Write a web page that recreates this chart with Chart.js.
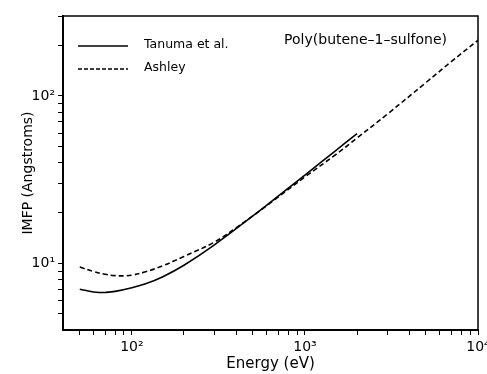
<!DOCTYPE html>
<html>
<head>
<meta charset="utf-8">
<script src="https://cdn.jsdelivr.net/npm/chart.js@4/dist/chart.umd.min.js"></script>
<style>
  html, body { margin: 0; padding: 0; background: #ffffff; }
  #wrap { width: 487px; height: 374px; }
</style>
</head>
<body>
<div id="wrap"><canvas id="c" width="487" height="374"></canvas></div>
<script>
// ---- data ----
const seriesNames = ['Tanuma et al.', 'Ashley'];
const chartNote = 'Poly(butene–1–sulfone)';
const xAxisTitle = 'Energy (eV)';
const yAxisTitle = 'IMFP (Angstroms)';

const tanumaEnergy = [50, 60, 65, 70, 80, 100, 120, 150, 200, 300, 500, 700, 1000, 1500, 2000];
const tanumaIMFP   = [7.0, 6.75, 6.7, 6.7, 6.8, 7.15, 7.55, 8.3, 9.75, 12.9, 19.2, 25.2, 33.7, 47.0, 59.5];

const ashleyEnergy = [50, 60, 70, 80, 90, 100, 120, 150, 200, 300, 400, 500, 700, 1000, 1500, 2000, 3000, 5000, 7000, 10000];
const ashleyIMFP   = [9.5, 8.95, 8.6, 8.45, 8.42, 8.5, 8.9, 9.65, 11.0, 13.4, 16.3, 19.2, 24.9, 32.8, 44.5, 56, 78, 120, 160, 215];

const xTickValues = [50, 60, 70, 80, 90, 100, 200, 300, 400, 500, 600, 700, 800, 900,
                     1000, 2000, 3000, 4000, 5000, 6000, 7000, 8000, 9000, 10000];
const xMajorValues = [100, 1000, 10000];
const xMajorLabels = ['10²', '10³', '10⁴'];

const yTickValues = [5, 6, 7, 8, 9, 10, 20, 30, 40, 50, 60, 70, 80, 90, 100, 200, 300];
const yMajorValues = [10, 100];
const yMajorLabels = ['10¹', '10²'];

const xRange = [40, 10000];
const yRange = [4, 300];

// ---- chart ----
const FONT = '"DejaVu Sans", "Liberation Sans", sans-serif';

const notesPlugin = {
  id: 'notes',
  afterDraw(chart) {
    const ctx = chart.ctx;
    const a = chart.chartArea;
    ctx.save();
    // frame: top and right edges
    ctx.strokeStyle = '#000';
    ctx.lineWidth = 1.5;
    ctx.setLineDash([]);
    ctx.beginPath();
    ctx.moveTo(a.left, a.top);
    ctx.lineTo(a.right, a.top);
    ctx.lineTo(a.right, a.bottom);
    ctx.stroke();

    // legend (upper left, inside plot)
    chart.data.datasets.forEach((ds, i) => {
      const y = a.top + 30 + i * 23;
      ctx.strokeStyle = '#000';
      ctx.lineWidth = 1.5;
      ctx.setLineDash(ds.legendDash || []);
      ctx.beginPath();
      ctx.moveTo(a.left + 15, y);
      ctx.lineTo(a.left + 65, y);
      ctx.stroke();
      ctx.setLineDash([]);
      ctx.fillStyle = '#000';
      ctx.font = '12.5px ' + FONT;
      ctx.textAlign = 'left';
      ctx.textBaseline = 'middle';
      ctx.fillText(ds.label, a.left + 81, y - 1);
    });

    // note in the upper right
    ctx.font = '14px ' + FONT;
    ctx.textAlign = 'right';
    ctx.textBaseline = 'middle';
    ctx.fillStyle = '#000';
    ctx.fillText(chartNote, a.right - 31, a.top + 24);
    ctx.restore();
  }
};

const toPoints = (xs, ys) => xs.map((x, i) => ({ x: x, y: ys[i] }));

new Chart(document.getElementById('c'), {
  type: 'line',
  data: {
    datasets: [
      {
        label: seriesNames[0],
        data: toPoints(tanumaEnergy, tanumaIMFP),
        borderColor: '#000',
        borderWidth: 1.6,
        pointRadius: 0,
        fill: false,
        tension: 0.4,
        legendDash: []
      },
      {
        label: seriesNames[1],
        data: toPoints(ashleyEnergy, ashleyIMFP),
        borderColor: '#000',
        borderWidth: 1.6,
        borderDash: [5, 3],
        pointRadius: 0,
        fill: false,
        tension: 0.4,
        legendDash: [4, 2]
      }
    ]
  },
  options: {
    responsive: false,
    animation: false,
    devicePixelRatio: 1,
    layout: { padding: { left: 0, top: 16, right: 9, bottom: 0 } },
    plugins: {
      legend: { display: false },
      tooltip: { enabled: false },
      title: { display: false }
    },
    scales: {
      x: {
        type: 'logarithmic',
        position: 'bottom',
        min: xRange[0],
        max: xRange[1],
        afterBuildTicks: (s) => { s.ticks = xTickValues.map(v => ({ value: v })); },
        afterFit: (s) => { s.height = 44; s.paddingLeft = 0; s.paddingRight = 0; },
        border: { display: true, color: '#000', width: 2 },
        grid: { display: true, drawOnChartArea: false, drawTicks: true, tickLength: 5, tickColor: '#000', tickWidth: 1 },
        ticks: {
          autoSkip: false,
          maxRotation: 0,
          padding: 4,
          color: '#000',
          font: { family: FONT, size: 14 },
          callback: (v) => { const i = xMajorValues.indexOf(v); return i >= 0 ? xMajorLabels[i] : ''; }
        },
        title: {
          display: true,
          text: xAxisTitle,
          color: '#000',
          font: { family: FONT, size: 15 },
          padding: { top: 0, bottom: 1 }
        }
      },
      y: {
        type: 'logarithmic',
        position: 'left',
        min: yRange[0],
        max: yRange[1],
        afterBuildTicks: (s) => { s.ticks = yTickValues.map(v => ({ value: v })); },
        afterFit: (s) => { s.width = 63; s.paddingTop = 0; s.paddingBottom = 0; },
        border: { display: true, color: '#000', width: 2 },
        grid: { display: true, drawOnChartArea: false, drawTicks: true, tickLength: 5, tickColor: '#000', tickWidth: 1 },
        ticks: {
          autoSkip: false,
          padding: 3,
          color: '#000',
          font: { family: FONT, size: 14 },
          callback: (v) => { const i = yMajorValues.indexOf(v); return i >= 0 ? yMajorLabels[i] : ''; }
        },
        title: {
          display: true,
          text: yAxisTitle,
          color: '#000',
          font: { family: FONT, size: 14 },
          padding: { top: 20, bottom: 0 }
        }
      }
    }
  },
  plugins: [notesPlugin]
});
</script>
</body>
</html>
